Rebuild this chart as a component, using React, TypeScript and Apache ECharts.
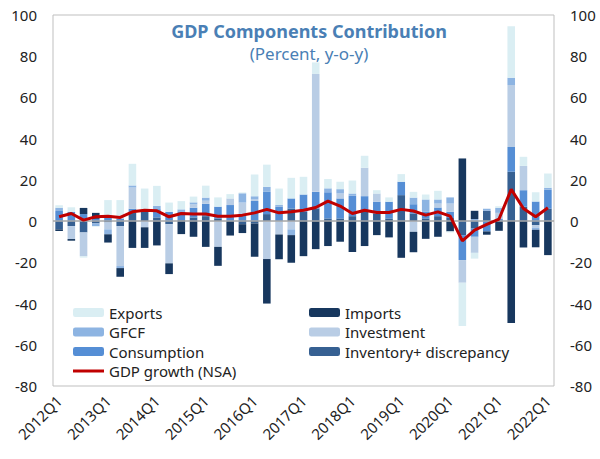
import React, { useEffect, useRef } from "react";
import * as echarts from "echarts";

const categories = [
  "2012Q1","2012Q2","2012Q3","2012Q4","2013Q1","2013Q2","2013Q3","2013Q4",
  "2014Q1","2014Q2","2014Q3","2014Q4","2015Q1","2015Q2","2015Q3","2015Q4",
  "2016Q1","2016Q2","2016Q3","2016Q4","2017Q1","2017Q2","2017Q3","2017Q4",
  "2018Q1","2018Q2","2018Q3","2018Q4","2019Q1","2019Q2","2019Q3","2019Q4",
  "2020Q1","2020Q2","2020Q3","2020Q4","2021Q1","2021Q2","2021Q3","2021Q4",
  "2022Q1",
];

const inventory = [
  -4, -2.4, -5.5, -1.1, -0.6, -2.4, 4, 5.3, 1.8, -1.5, 0.5, 1.8, 2.4, 1.3, 0, -1.5,
  -1.1, 3.4, 0, 6.1, 4.5, 6.1, 1.3, 1.3, 2.4, 4.5, 3.7, 1.3, 12.6, 3.7, 1.3, 2.4,
  1.5, -6.8, -3.6, 5, 0, 24, 7, -2, 6.1,
];
const consumption = [
  4.9, 4.5, 3.4, 1.1, 2.4, 1.3, 2, 0, 4, 4.5, 4.2, 4.7, 6, 5.7, 7.8, 2.5,
  9.7, 10.8, 7, 4.9, 8.4, 8.1, 12.7, 9.7, 9.9, 7.6, 5.7, 8.1, 6.5, 4.5, 3.2, 4.2,
  3, -12.1, -4, -5, 1, 12, 8, 9.5, 9.1,
];
const investment = [
  0, -6.3, -11.5, 0, -3.4, -19.4, 10.3, -3, 0, -19, 0, 1.6, 1.5, -12.5, 3.2, 6.5,
  0.8, -18.4, -6.5, -4, 0, 57.2, 0, 2.4, 0, 13.8, 4, 0, 0, -5.2, 0, 1.9,
  4, -11, -7.8, 0, 3, 30, 11.8, -1.2, 0,
];
const gfcf = [
  1.6, 0, 0, -1.3, -2.4, -1, 1, 0, 1.6, 0, 1, 1, 1.5, 0, 0, 4.5,
  1.6, 2.4, 0.8, -2.8, 0, 0, 1.9, 2.1, 1.1, 0, 0, 0, 0, 3.2, 6, 2,
  3, 0, 1, 1, 2.4, 3.6, 0, -1, 1,
];
const imports = [
  -0.8, -0.8, 3, 2.9, -4, -4.2, -13, -10, -11.8, -5.2, -6.3, -7.6, -12.5, -9.2, -7, -4.3,
  -16.2, -21.6, -12, -13.4, -17, -13.6, -12.1, -10, -15, -12.1, -6.8, -7.9, -17.8, -9.9, -8.6, -7.6,
  -5, 30.4, 4, -1.6, -4.7, -49.4, -12.8, -8.5, -16.5,
];
const exportsData = [
  1.2, 2.2, -0.7, -0.3, 7.8, 8.9, 10.5, 10.5, 9.7, 4.5, 4, 2.8, 5.8, 4.5, 2.1, 0.4,
  10.5, 10.8, 8, 10, 8.6, 5.6, 4.5, 3.6, 6.3, 5.8, 1.6, 2.1, 3.7, 2.8, 2.4, 4.2,
  -0.5, -21, -2.8, 0, 0.8, 25, 4.4, 4.5, 6.9,
];
const gdpGrowth = [
  2.1, 3.7, 0.5, 2.1, 2.4, 1.8, 4.5, 5.3, 5, 2.1, 3.7, 3.4, 3.4, 2.4, 2.4, 2.9,
  4, 5.7, 4, 4.5, 5.3, 6.6, 9.7, 7.3, 3.7, 5.3, 4.2, 4.2, 5.7, 4.9, 2.9, 4.5,
  2.4, -9.6, -4.4, -1.6, 1, 15.4, 6.1, 2.1, 6.5,
];

const FONT = "'Noto Sans', 'DejaVu Sans', sans-serif";

export default function App() {
  const ref = useRef<HTMLDivElement>(null);
  useEffect(() => {
    if (!ref.current) return;
    const chart = echarts.init(ref.current, undefined, { renderer: "svg" });
    const barSeries = (name: string, data: number[], color: string) => ({
      name,
      type: "bar",
      stack: "comp",
      data,
      barCategoryGap: "38%",
      itemStyle: { color },
      yAxisIndex: 0,
    });
    const yAxisBase = {
      type: "value",
      min: -80,
      max: 100,
      interval: 20,
      splitLine: { show: false },
      axisLine: { show: false },
      axisTick: { show: false },
      axisLabel: { color: "#222", fontSize: 15, fontFamily: FONT, margin: 16 },
    };
    const legendBase = {
      orient: "vertical",
      top: 305,
      padding: 0,
      itemWidth: 31,
      itemHeight: 9,
      itemGap: 4.5,
      textStyle: { color: "#222", fontSize: 15, fontFamily: FONT },
    };
    chart.setOption({
      animation: false,
      textStyle: { fontFamily: FONT },
      title: {
        text: "GDP Components Contribution",
        subtext: "(Percent, y-o-y)",
        left: 304,
        textAlign: "center",
        top: 17,
        itemGap: 5,
        textStyle: { color: "#4A7FB5", fontSize: 18, fontWeight: "bold", fontFamily: FONT },
        subtextStyle: { color: "#4A7FB5", fontSize: 17, fontFamily: FONT },
      },
      grid: {
        left: 53,
        right: 46,
        top: 15,
        bottom: 73,
        show: true,
        borderColor: "#bfbfbf",
        borderWidth: 1,
        backgroundColor: "transparent",
      },
      legend: [
        {
          ...legendBase,
          left: 73,
          data: [
            "Exports",
            "GFCF",
            "Consumption",
            { name: "GDP growth (NSA)", icon: "path://M0,0 L31,0 L31,3 L0,3 Z" },
          ],
        },
        {
          ...legendBase,
          left: 309,
          data: ["Imports", "Investment", "Inventory+ discrepancy"],
        },
      ],
      xAxis: {
        type: "category",
        data: categories,
        axisLine: { show: false },
        axisTick: { show: false },
        axisLabel: {
          interval: 3,
          rotate: 45,
          color: "#222",
          fontSize: 15,
          fontFamily: FONT,
          margin: 12,
        },
      },
      yAxis: [
        { ...yAxisBase, position: "left" },
        { ...yAxisBase, position: "right" },
      ],
      series: [
        barSeries("Inventory+ discrepancy", inventory, "#366092"),
        barSeries("Consumption", consumption, "#558ED5"),
        barSeries("Investment", investment, "#B9CDE5"),
        barSeries("GFCF", gfcf, "#8DB4E2"),
        barSeries("Imports", imports, "#17375E"),
        barSeries("Exports", exportsData, "#DAEEF3"),
        {
          name: "GDP growth (NSA)",
          type: "line",
          data: gdpGrowth,
          yAxisIndex: 0,
          symbol: "none",
          showSymbol: false,
          lineStyle: { color: "#C00000", width: 3 },
          itemStyle: { color: "#C00000" },
          z: 5,
          markLine: {
            silent: true,
            symbol: "none",
            label: { show: false },
            lineStyle: { color: "#a6a6a6", width: 1.5, type: "solid" },
            data: [{ yAxis: 0 }],
            z: 3,
          },
        },
      ],
    });
    return () => chart.dispose();
  }, []);
  return (
    <div
      ref={ref}
      style={{ position: "fixed", left: 0, top: 0, width: 600, height: 459, background: "#fff" }}
    />
  );
}
